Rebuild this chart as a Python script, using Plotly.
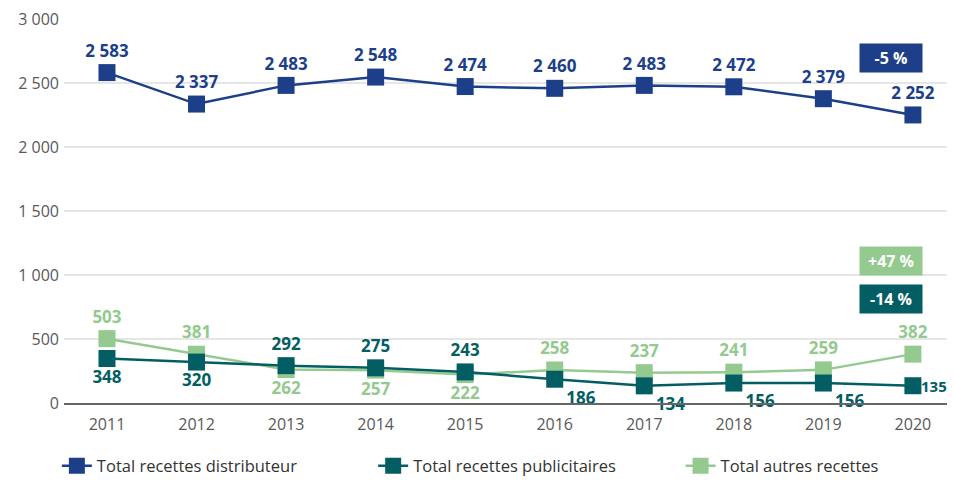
import plotly.graph_objects as go

years = ["2011", "2012", "2013", "2014", "2015", "2016", "2017", "2018", "2019", "2020"]
distributeur = [2583, 2337, 2483, 2548, 2474, 2460, 2483, 2472, 2379, 2252]
publicitaires = [348, 320, 292, 275, 243, 186, 134, 156, 156, 135]
autres = [503, 381, 262, 257, 222, 258, 237, 241, 259, 382]
names = ["Total recettes distributeur", "Total recettes publicitaires", "Total autres recettes"]
colors = ["#1d3f8a", "#035e64", "#94c98f"]
badges = ["-5 %", "+47 %", "-14 %"]
badge_y = [2695, 1109, 812]
badge_colors = ["#1d3f8a", "#94c98f", "#035e64"]
yticks = [0, 500, 1000, 1500, 2000, 2500, 3000]


def fmt(v):
    return f"{v:,}".replace(",", " ")


pos_dist = ["top center"] * 10
pos_pub = ["bottom center"] * 2 + ["top center"] * 3 + ["bottom right"] * 4 + ["middle right"]
pos_aut = ["top center"] * 2 + ["bottom center"] * 3 + ["top center"] * 5

pub_text = [fmt(v) for v in publicitaires[:-1]] + [""]

series = [
    (distributeur, names[0], colors[0], pos_dist, "legend", [fmt(v) for v in distributeur]),
    (autres, names[2], colors[2], pos_aut, "legend3", [fmt(v) for v in autres]),
    (publicitaires, names[1], colors[1], pos_pub, "legend2", pub_text),
]

fig = go.Figure()
for vals, name, col, pos, leg, txt in series:
    fig.add_trace(go.Scatter(
        x=years, y=vals, name=name, mode="lines+markers+text",
        line=dict(color=col, width=2.5),
        marker=dict(symbol="square", size=17, color=col),
        text=txt, textposition=pos,
        textfont=dict(family="Open Sans", size=17, color=col, weight="bold"),
        cliponaxis=False, legend=leg,
    ))

# last label of publicitaires, placed to the right of its marker
fig.add_annotation(
    x=len(years) - 1, y=publicitaires[-1], xref="x", yref="y",
    text="<b>" + fmt(publicitaires[-1]) + "</b>",
    showarrow=False, xanchor="left", yanchor="middle", xshift=7, borderpad=0,
    font=dict(family="Open Sans", size=15, color=colors[1]),
)

for txt, yv, bc in zip(badges, badge_y, badge_colors):
    fig.add_annotation(
        x=0.928, xref="paper", y=yv, yref="y", text=f"<b>{txt}</b>", showarrow=False,
        xanchor="center", yanchor="middle",
        font=dict(family="Open Sans", size=16, color="white"),
        bgcolor=bc, width=56, height=22, borderpad=3,
    )

legfont = dict(family="Open Sans", size=16.5, color="#333333")
legcommon = dict(orientation="h", y=-0.164, yanchor="middle", xanchor="left",
                 font=legfont, bgcolor="rgba(0,0,0,0)")

fig.update_layout(
    width=947, height=496,
    margin=dict(l=56, r=0, t=11, b=101),
    paper_bgcolor="white", plot_bgcolor="white",
    font=dict(family="Open Sans", size=16, color="#595959"),
    showlegend=True,
    legend=dict(x=-0.008, **legcommon),
    legend2=dict(x=0.347, **legcommon),
    legend3=dict(x=0.692, **legcommon),
    xaxis=dict(type="category", showgrid=False, showline=True, linecolor="#666666", linewidth=1.5,
               ticks="", tickfont=dict(size=16, color="#595959"), range=[-0.48, 9.47],
               ticklabelstandoff=6, automargin=False),
    yaxis=dict(range=[0, 3002], tickvals=yticks, ticktext=[fmt(v) for v in yticks],
               showgrid=True, gridcolor="#e6e6e6", gridwidth=1.5, zeroline=False,
               tickfont=dict(size=16, color="#595959"), ticklabelstandoff=4,
               ticklabeloverflow="allow", automargin=False),
)

fig.write_html("out.html")
